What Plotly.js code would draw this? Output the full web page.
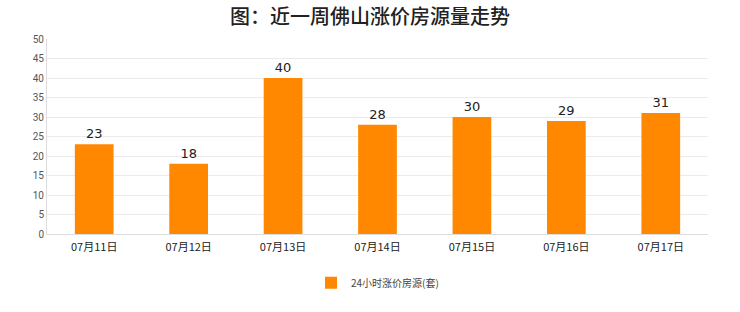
<!DOCTYPE html>
<html><head><meta charset="utf-8">
<script src="https://cdn.plot.ly/plotly-3.0.1.min.js"></script>
<style>html,body{margin:0;padding:0;background:#fff}#c{width:740px;height:312px}</style>
</head><body><div id="c"></div>
<script>
const categories = ["07月11日","07月12日","07月13日","07月14日","07月15日","07月16日","07月17日"];
const values = [23,18,40,28,30,29,31];
const seriesName = "24小时涨价房源(套)";
const titleText = "图：近一周佛山涨价房源量走势";
const yTicks = [0,5,10,15,20,25,30,35,40,45,50];

Plotly.newPlot("c", [{
  type: "bar",
  x: categories,
  y: values,
  name: seriesName,
  width: 0.41,
  marker: {color: "#ff8800"},
  text: values.map(String),
  textposition: "outside",
  cliponaxis: false,
  textfont: {family: "DejaVu Sans, sans-serif", size: 13, color: "#222"},
  hoverinfo: "none"
}], {
  width: 740, height: 312,
  paper_bgcolor: "#fff", plot_bgcolor: "#fff",
  margin: {l: 47, r: 32, t: 39, b: 78},
  title: {text: titleText, x: 0.5, xanchor: "center", y: 0.945, yanchor: "middle",
          font: {family: "Noto Sans CJK SC, sans-serif", size: 20, color: "#222", weight: 500}},
  showlegend: true,
  legend: {orientation: "h", x: 0.5, xanchor: "center", y: -0.25, yanchor: "middle", itemwidth: 30,
           font: {family: "Noto Sans CJK SC, sans-serif", size: 10, color: "#444"}},
  xaxis: {type: "category", showgrid: false, showline: true, linecolor: "#ddd", ticks: "", ticklabelstandoff: 3,
          tickfont: {family: "Noto Sans CJK SC, sans-serif", size: 11, color: "#222"}, fixedrange: true},
  yaxis: {range: [0, 50], tickvals: yTicks, ticktext: yTicks.map(String), showgrid: true, gridcolor: "#ebebeb",
          showline: true, linecolor: "#ddd", zeroline: false, ticks: "",
          tickfont: {family: "Roboto, sans-serif", size: 10, color: "#555"}, fixedrange: true}
}, {displayModeBar: false, staticPlot: true});
</script></body></html>
